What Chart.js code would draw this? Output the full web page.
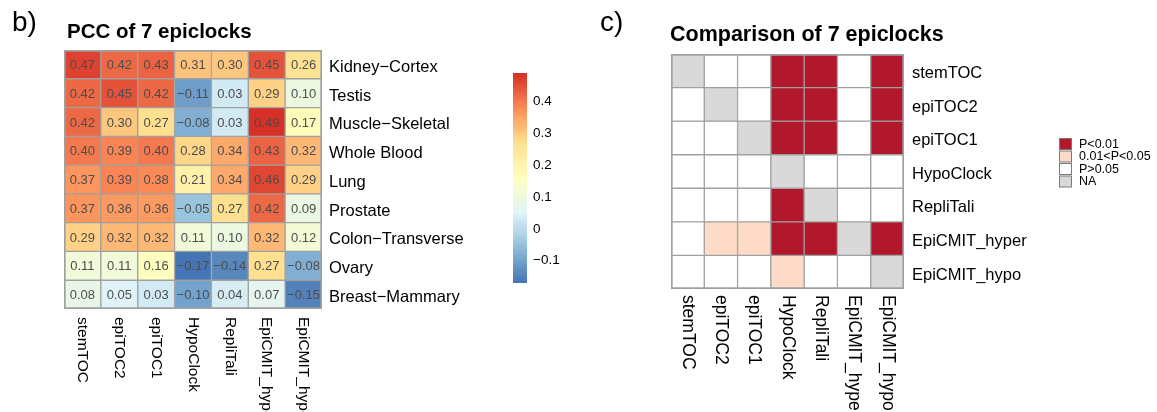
<!DOCTYPE html>
<html>
<head>
<meta charset="utf-8">
<script src="https://cdn.jsdelivr.net/npm/chart.js@4.4.0/dist/chart.umd.min.js"></script>
<style>
  html, body { margin: 0; padding: 0; background: #fff; width: 1157px; height: 412px; overflow: hidden; }
  canvas { position: absolute; top: 0; }
</style>
</head>
<body>
<canvas id="pcc" width="490" height="412" style="left:0px;width:490px;height:412px"></canvas>
<canvas id="scalebar" width="90" height="412" style="left:490px;width:90px;height:412px"></canvas>
<canvas id="cmp" width="577" height="412" style="left:580px;width:577px;height:412px"></canvas>
<script>
// ---- data ----
const clocks = ['stemTOC', 'epiTOC2', 'epiTOC1', 'HypoClock', 'RepliTali', 'EpiCMIT_hyper', 'EpiCMIT_hypo'];
const tissues = ['Kidney\u2212Cortex', 'Testis', 'Muscle\u2212Skeletal', 'Whole Blood', 'Lung',
                 'Prostate', 'Colon\u2212Transverse', 'Ovary', 'Breast\u2212Mammary'];

// Pearson correlation per tissue (rows) and clock (columns)
const pccKidney   = [0.47, 0.42, 0.43, 0.31, 0.30, 0.45, 0.26];
const pccTestis   = [0.42, 0.45, 0.42, -0.11, 0.03, 0.29, 0.10];
const pccMuscle   = [0.42, 0.30, 0.27, -0.08, 0.03, 0.49, 0.17];
const pccBlood    = [0.40, 0.39, 0.40, 0.28, 0.34, 0.43, 0.32];
const pccLung     = [0.37, 0.39, 0.38, 0.21, 0.34, 0.46, 0.29];
const pccProstate = [0.37, 0.36, 0.36, -0.05, 0.27, 0.42, 0.09];
const pccColon    = [0.29, 0.32, 0.32, 0.11, 0.10, 0.32, 0.12];
const pccOvary    = [0.11, 0.11, 0.16, -0.17, -0.14, 0.27, -0.08];
const pccBreast   = [0.08, 0.05, 0.03, -0.10, 0.04, 0.07, -0.15];
const pccRows = [pccKidney, pccTestis, pccMuscle, pccBlood, pccLung, pccProstate, pccColon, pccOvary, pccBreast];

const scaleTicks = [-0.1, 0, 0.1, 0.2, 0.3, 0.4];

// pairwise comparison outcome: 0 = NA, 1 = P>0.05, 2 = 0.01<P<0.05, 3 = P<0.01
const cmpStemTOC   = [0, 1, 1, 3, 3, 1, 3];
const cmpEpiTOC2   = [1, 0, 1, 3, 3, 1, 3];
const cmpEpiTOC1   = [1, 1, 0, 3, 3, 1, 3];
const cmpHypoClock = [1, 1, 1, 0, 1, 1, 1];
const cmpRepliTali = [1, 1, 1, 3, 0, 1, 1];
const cmpHyper     = [1, 2, 2, 3, 3, 0, 3];
const cmpHypo      = [1, 1, 1, 2, 1, 1, 0];
const cmpRows = [cmpStemTOC, cmpEpiTOC2, cmpEpiTOC1, cmpHypoClock, cmpRepliTali, cmpHyper, cmpHypo];

const pLevels = ['NA', 'P>0.05', '0.01<P<0.05', 'P<0.01'];
const pColors = ['#d9d9d9', '#ffffff', '#fddbc7', '#b2182b'];
const legendOrder = [3, 2, 1, 0];

// ---- styling helpers ----
const FONT = '"Liberation Sans", Arial, Helvetica, sans-serif';
Chart.defaults.font.family = FONT;
Chart.defaults.animation = false;

const ramp = ['#4575b4', '#91bfdb', '#e0f3f8', '#ffffbf', '#fee090', '#fc8d59', '#d73027'];
const allPcc = pccRows.flat();
const pccMin = Math.min(...allPcc);
const pccMax = Math.max(...allPcc);
const NBINS = 100;

function hexToRgb(h) {
  return [parseInt(h.slice(1, 3), 16), parseInt(h.slice(3, 5), 16), parseInt(h.slice(5, 7), 16)];
}
function rampAt(t) {
  const pos = t * (ramp.length - 1);
  const i = Math.min(Math.floor(pos), ramp.length - 2);
  const f = pos - i;
  const a = hexToRgb(ramp[i]), b = hexToRgb(ramp[i + 1]);
  const c = a.map((v, k) => Math.round(v + (b[k] - v) * f));
  return `rgb(${c[0]},${c[1]},${c[2]})`;
}
const binColors = Array.from({ length: NBINS }, (_, k) => rampAt(k / (NBINS - 1)));
function pccColor(v) {
  const t = (v - pccMin) / (pccMax - pccMin);
  const k = Math.max(0, Math.min(NBINS - 1, Math.floor(t * NBINS)));
  return binColors[k];
}
const fmt = v => (v < 0 ? '\u2212' : '') + Math.abs(v).toFixed(2);
const tickFmt = v => (v < 0 ? '\u2212' : '') + String(Math.abs(v));

const GRID = '#a0a0a0';
function cellBorder(nRows, nCols) {
  return ctx => ({
    top: ctx.datasetIndex === 0 ? 2 : 1,
    bottom: ctx.datasetIndex === nRows - 1 ? 2 : 1,
    left: ctx.dataIndex === 0 ? 2 : 1,
    right: ctx.dataIndex === nCols - 1 ? 2 : 1
  });
}

function heatDatasets(rows, colorOf, nCols) {
  return rows.map((vals, r) => ({
    label: String(r),
    data: vals.map(() => [r, r + 1]),
    backgroundColor: vals.map(colorOf),
    borderColor: GRID,
    borderWidth: cellBorder(rows.length, nCols),
    borderSkipped: false,
    grouped: false,
    barPercentage: 1,
    categoryPercentage: 1
  }));
}

function heatScales(nRows) {
  return {
    x: { type: 'category', display: false },
    y: { type: 'linear', display: false, min: 0, max: nRows, reverse: true }
  };
}

// axis text drawn beside the heatmap grid using the chart scales
function drawAxisText(chart, rowNames, colNames, opt) {
  const { ctx, chartArea, scales } = chart;
  ctx.save();
  ctx.fillStyle = '#000';
  ctx.font = `${opt.rowSize}px ${FONT}`;
  ctx.textAlign = 'left';
  ctx.textBaseline = 'alphabetic';
  rowNames.forEach((name, r) => {
    const yc = scales.y.getPixelForValue(r + 0.5);
    ctx.fillText(name, chartArea.right + opt.rowGap, yc + 0.358 * opt.rowSize + 1.5);
  });
  ctx.font = `${opt.colSize}px ${FONT}`;
  ctx.textBaseline = 'middle';
  colNames.forEach((name, c) => {
    const xc = scales.x.getPixelForValue(c);
    ctx.save();
    ctx.translate(xc, chartArea.bottom + opt.colGap);
    ctx.rotate(Math.PI / 2);
    ctx.fillText(name, 0, 0);
    ctx.restore();
  });
  ctx.restore();
}

function drawHeading(ctx, tag, tagX, title, titleX, titleY, titleSize) {
  ctx.save();
  ctx.fillStyle = '#000';
  ctx.textAlign = 'left';
  ctx.textBaseline = 'alphabetic';
  ctx.font = `28px ${FONT}`;
  ctx.fillText(tag, tagX, 31);
  ctx.font = `bold ${titleSize}px ${FONT}`;
  ctx.fillText(title, titleX, titleY);
  ctx.restore();
}

// ---- panel b: correlation heatmap ----
new Chart(document.getElementById('pcc'), {
  type: 'bar',
  data: { labels: clocks, datasets: heatDatasets(pccRows, pccColor, clocks.length) },
  options: {
    responsive: false,
    layout: { padding: { left: 64, top: 50, right: 490 - 322, bottom: 412 - 309 } },
    scales: heatScales(tissues.length),
    plugins: { legend: { display: false }, tooltip: { enabled: false } }
  },
  plugins: [{
    id: 'pccText',
    afterDatasetsDraw(chart) {
      const ctx = chart.ctx;
      ctx.save();
      ctx.font = `13px ${FONT}`;
      ctx.fillStyle = '#4d4d4d';
      ctx.textAlign = 'center';
      ctx.textBaseline = 'middle';
      pccRows.forEach((vals, r) => {
        const meta = chart.getDatasetMeta(r);
        meta.data.forEach((bar, c) => {
          ctx.fillText(fmt(vals[c]), bar.x, (bar.y + bar.base) / 2 + 1);
        });
      });
      ctx.restore();
      drawAxisText(chart, tissues, clocks, { rowSize: 16.5, rowGap: 7, colSize: 15.5, colGap: 8 });
      drawHeading(ctx, 'b)', 12, 'PCC of 7 epiclocks', 67, 38, 20.5);
    }
  }]
});

// ---- colour key for panel b ----
new Chart(document.getElementById('scalebar'), {
  type: 'bar',
  data: {
    labels: [''],
    datasets: [{
      data: [[pccMin, pccMax]],
      backgroundColor(c) {
        const ch = c.chart;
        if (!ch.chartArea) return null;
        const y = ch.scales.y;
        const g = ch.ctx.createLinearGradient(0, y.getPixelForValue(pccMin), 0, y.getPixelForValue(pccMax));
        binColors.forEach((col, k) => {
          g.addColorStop(k / NBINS, col);
          g.addColorStop((k + 1) / NBINS, col);
        });
        return g;
      },
      borderWidth: 0,
      barPercentage: 1,
      categoryPercentage: 1
    }]
  },
  options: {
    responsive: false,
    layout: { padding: { left: 23, top: 73, right: 0, bottom: 412 - 283 } },
    scales: {
      x: { display: false },
      y: {
        position: 'right',
        min: pccMin,
        max: pccMax,
        afterBuildTicks(s) { s.ticks = scaleTicks.map(v => ({ value: v })); },
        afterFit(s) { s.width = 53; },
        grid: { display: false, drawTicks: false },
        border: { display: false },
        ticks: { callback: v => tickFmt(v), color: '#000', font: { size: 13.5 }, padding: 6 }
      }
    },
    plugins: { legend: { display: false }, tooltip: { enabled: false } }
  }
});

// ---- panel c: pairwise comparison heatmap ----
new Chart(document.getElementById('cmp'), {
  type: 'bar',
  data: { labels: clocks, datasets: heatDatasets(cmpRows, code => pColors[code], clocks.length) },
  options: {
    responsive: false,
    layout: { padding: { left: 671 - 580, top: 54, right: 577 - (904 - 580), bottom: 412 - 289 } },
    scales: heatScales(clocks.length),
    plugins: { legend: { display: false }, tooltip: { enabled: false } }
  },
  plugins: [{
    id: 'cmpText',
    afterDatasetsDraw(chart) {
      const ctx = chart.ctx;
      drawAxisText(chart, clocks, clocks, { rowSize: 16.5, rowGap: 8, colSize: 17.5, colGap: 6 });
      drawHeading(ctx, 'c)', 20, 'Comparison of 7 epiclocks', 90, 40.5, 21.5);
      // key
      ctx.save();
      ctx.font = `12.5px ${FONT}`;
      ctx.textAlign = 'left';
      ctx.textBaseline = 'middle';
      legendOrder.forEach((code, i) => {
        const yc = 144 + i * 12.5;
        ctx.fillStyle = pColors[code];
        ctx.fillRect(479.5, yc - 5.5, 12, 11);
        ctx.strokeStyle = '#7a7a7a';
        ctx.lineWidth = 1;
        ctx.strokeRect(479.5, yc - 5.5, 12, 11);
        ctx.fillStyle = '#000';
        ctx.fillText(pLevels[code], 499, yc + 0.5);
      });
      ctx.restore();
    }
  }]
});
</script>
</body>
</html>
